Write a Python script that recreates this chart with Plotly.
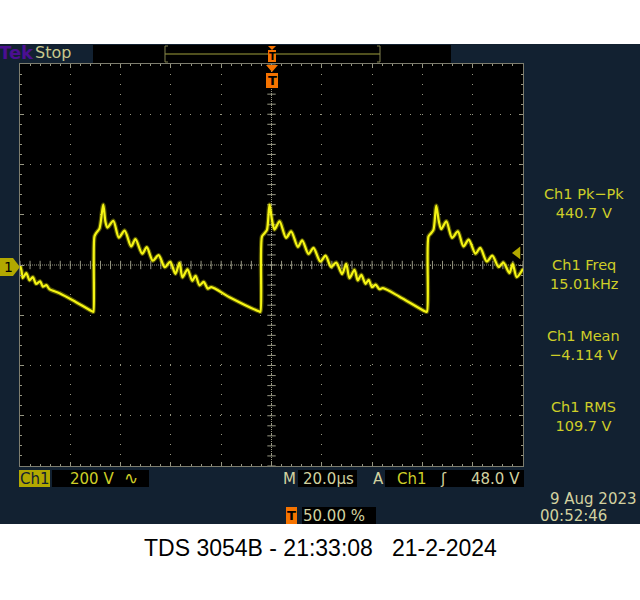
import plotly.graph_objects as go

# Ch1 trace (time in us, trigger at 0; volts)
t_us = [-99.9, -99.4, -98.9, -97.5, -96.2, -94.9, -93.6, -92.0, -90.9, -89.5,
        -88.3, -84.3, -78.3, -71.0,
        -70.8, -70.4, -69.6, -68.4, -66.9, -66.0, -65.2, -62.9, -60.7, -58.4,
        -55.8, -54.1, -51.4, -49.6, -47.2, -44.9, -42.4, -40.3, -38.2, -36.6,
        -35.4, -33.4, -31.5, -30.2, -28.6, -27.0, -25.3, -23.9, -16.7, -4.8,
        -4.4, -3.8, -2.8, -1.8, -0.8, 0.2, 1.2, 3.2, 5.8, 7.8,
        10.5, 12.2, 14.7, 16.7, 19.4, 21.5, 23.7, 25.7, 28.1, 29.7,
        31.0, 33.0, 34.3, 35.7, 37.4, 38.6, 40.0, 41.4, 42.9, 44.3, 50.9, 61.2,
        61.8, 62.4, 63.4, 64.4, 65.5, 66.5, 67.5, 69.5, 71.8, 74.1,
        76.3, 78.4, 81.1, 83.0, 85.6, 87.8, 90.3, 92.2, 94.6, 95.9,
        97.5, 100.0]
ch1_v = [-3, -23, -52, -32, -61, -48, -75, -65, -86, -80,
         -96, -112, -144, -186,
         -186, 113, 129, 145, 240, 170, 149, 176, 109, 137,
         74, 103, 45, 71, 17, 39, -9, 13, -35, 9,
         -49, -17, -63, -43, -81, -67, -94, -88, -128, -185,
         -186, 113, 126, 140, 240, 180, 141, 174, 108, 134,
         72, 98, 44, 68, 14, 37, -8, 10, -36, 5,
         -52, -19, -61, -39, -75, -59, -88, -78, -96, -92, -126, -185,
         -186, 113, 126, 140, 236, 176, 143, 174, 108, 134,
         74, 101, 45, 68, 14, 37, -8, 10, -32, 5,
         -48, -15]

# readouts
meas_names = ["Ch1 Pk\u2212Pk", "Ch1 Freq", "Ch1 Mean", "Ch1 RMS"]
meas_values = ["440.7 V", "15.01kHz", "\u22124.114 V", "109.7 V"]
ch_scale = "200 V"
time_scale = "20.0\u00b5s"
trig_level = 48.0
trig_text = "48.0 V"
trig_pos = "50.00 %"
scope_date = "9 Aug 2023"
scope_time = "00:52:46"
caption = "TDS 3054B - 21:33:08\u00a0\u00a0\u00a021-2-2024"

FONT = "DejaVu Sans"
NAVY = "rgb(18,33,49)"
OLIVE = "rgb(178,168,0)"
YEL = "rgb(206,206,40)"
BEIGE = "rgb(210,210,160)"
ORANGE = "rgb(245,115,0)"
GRID = "rgb(150,150,130)"

# graticule position in the page (pixels)
GX0, GX1, GY0, GY1 = 20, 523, 64, 466


def fx(x):
    return (x - GX0) / (GX1 - GX0)


def fy(y):
    return (GY1 - y) / (GY1 - GY0)


shapes = []
annotations = []


def box(x0, y0, x1, y1, fill):
    shapes.append(dict(type="rect", xref="paper", yref="paper",
                       x0=fx(x0), x1=fx(x1), y0=fy(y1), y1=fy(y0),
                       fillcolor=fill, line=dict(width=0), layer="above"))


def poly(pts, fill):
    path = "M" + "L".join(f"{fx(x):.4f},{fy(y):.4f}" for x, y in pts) + "Z"
    shapes.append(dict(type="path", xref="paper", yref="paper", path=path,
                       fillcolor=fill, line=dict(width=0), layer="above"))


def seg(x0, y0, x1, y1, color):
    shapes.append(dict(type="line", xref="paper", yref="paper",
                       x0=fx(x0), x1=fx(x1), y0=fy(y0), y1=fy(y1),
                       line=dict(color=color, width=1), layer="above"))


def text(x, y, s, color, size=15, anchor="center", bold=False):
    if bold:
        s = "<b>" + s + "</b>"
    annotations.append(dict(x=fx(x), y=fy(y), xref="paper", yref="paper",
                            text=s, showarrow=False, xanchor=anchor,
                            yanchor="middle",
                            font=dict(family=FONT, size=size, color=color)))


# white page outside the scope screen
box(0, 0, 640, 44, "white")
box(0, 524, 640, 600, "white")

# top status bar
text(16, 53, "Tek", "rgb(75,15,145)", size=18, bold=True)
text(52.5, 53, "Stop", "rgb(200,200,140)", size=16)
box(93, 45, 451, 63, "black")
seg(165, 54, 380, 54, "rgb(160,160,60)")
for bx, d in [(165, 3), (380, -3)]:
    seg(bx, 46, bx, 62, "rgb(130,130,80)")
    seg(bx, 46, bx + d, 46, "rgb(130,130,80)")
    seg(bx, 62, bx + d, 62, "rgb(130,130,80)")
poly([(268, 46), (276, 46), (272, 50)], ORANGE)
box(268, 50, 276, 62, ORANGE)
text(272, 56, "T", "black", size=10, bold=True)

# trigger position marker
poly([(266, 65), (278, 65), (272, 72)], ORANGE)
box(266, 73, 278, 88, ORANGE)
text(272, 80.5, "T", "black", size=13, bold=True)

# channel 1 ground marker
poly([(0, 258), (13, 258), (20, 267), (13, 276), (0, 276)], OLIVE)
text(8, 267, "1", "black", size=14)

# right side readouts
for i, (nm, val) in enumerate(zip(meas_names, meas_values)):
    y = 203 + i * 71
    text(583.5, y, nm + "<br>" + val, YEL, size=14.5)

# bottom bar
box(19, 470, 50, 487, OLIVE)
text(34.5, 478.5, "Ch1", NAVY)
box(52, 470, 149, 487, "black")
text(92, 478.5, ch_scale, YEL)
text(131, 477.5, "\u223f", YEL, size=17)
text(289.5, 478.5, "M", BEIGE)
box(298, 470, 357, 487, "black")
text(328, 478.5, time_scale, BEIGE)
text(378, 478.5, "A", BEIGE)
box(385, 470, 524, 487, "black")
text(412, 478.5, "Ch1", YEL)
text(443, 478.5, "\u0283", BEIGE)
text(522, 478.5, trig_text, BEIGE, anchor="right")
box(286, 507, 297, 524, ORANGE)
text(291.5, 515.5, "T", "black", size=13, bold=True)
box(302, 507, 376, 524, "black")
text(334, 515.5, trig_pos, BEIGE)
text(639, 499, scope_date, BEIGE, anchor="right")
text(573, 516, scope_time, BEIGE)

# caption under the screen
annotations.append(dict(x=fx(320), y=fy(548), xref="paper", yref="paper",
                        text=caption, showarrow=False, xanchor="center",
                        yanchor="middle",
                        font=dict(family="Liberation Sans", size=23,
                                  color="black")))

fig = go.Figure()

# centre cross of the graticule
fig.add_trace(go.Scatter(x=[0, 0], y=[-800, 800], mode="lines",
                         line=dict(color=GRID, width=1, dash="1px,1px"),
                         hoverinfo="skip"))
fig.add_trace(go.Scatter(x=[-100, 100], y=[0, 0], mode="lines",
                         line=dict(color=GRID, width=1, dash="1px,1px"),
                         hoverinfo="skip"))
fig.add_trace(go.Scatter(x=[0] * 41, y=[-800 + 40 * k for k in range(41)],
                         mode="markers", hoverinfo="skip",
                         marker=dict(symbol="line-ew", size=6,
                                     line=dict(color=GRID, width=1))))
fig.add_trace(go.Scatter(x=[-100 + 4 * k for k in range(51)], y=[0] * 51,
                         mode="markers", hoverinfo="skip",
                         marker=dict(symbol="line-ns", size=6,
                                     line=dict(color=GRID, width=1))))

# waveform with a little phosphor glow
fig.add_trace(go.Scatter(x=t_us, y=ch1_v, mode="lines", hoverinfo="skip",
                         line=dict(color="rgba(230,230,0,0.35)", width=4.5,
                                   shape="spline", smoothing=0.8)))
fig.add_trace(go.Scatter(x=t_us, y=ch1_v, mode="lines", name="Ch1",
                         line=dict(color="rgb(245,245,20)", width=2.2,
                                   shape="spline", smoothing=0.8)))

# trigger level arrow
fig.add_trace(go.Scatter(x=[97.8], y=[trig_level], mode="markers",
                         cliponaxis=False, hoverinfo="skip",
                         marker=dict(symbol="triangle-left", size=11,
                                     color=OLIVE)))

axis_common = dict(showticklabels=False, zeroline=False, showgrid=True,
                   gridcolor=GRID, gridwidth=1, griddash="1px,9px",
                   showline=True, linecolor="rgb(125,125,110)", linewidth=1,
                   mirror="ticks", ticks="inside", ticklen=4, tickcolor=GRID,
                   fixedrange=True)

fig.update_layout(
    width=640, height=600,
    margin=dict(l=GX0, r=640 - GX1, t=GY0, b=600 - GY1, autoexpand=False),
    paper_bgcolor=NAVY, plot_bgcolor="black",
    showlegend=False,
    xaxis=dict(range=[-100, 100], dtick=20, tick0=0,
               minor=dict(dtick=4, ticks="inside", ticklen=2, tickcolor=GRID,
                          showgrid=False),
               **axis_common),
    yaxis=dict(range=[-800, 800], dtick=200, tick0=0,
               minor=dict(dtick=40, ticks="inside", ticklen=2, tickcolor=GRID,
                          showgrid=False),
               **axis_common),
    shapes=shapes,
    annotations=annotations,
)

# the page's default body margin would shift the figure by 8px
fig.write_html("out.html", config={"displayModeBar": False},
               post_script="document.body.style.margin='0';")
